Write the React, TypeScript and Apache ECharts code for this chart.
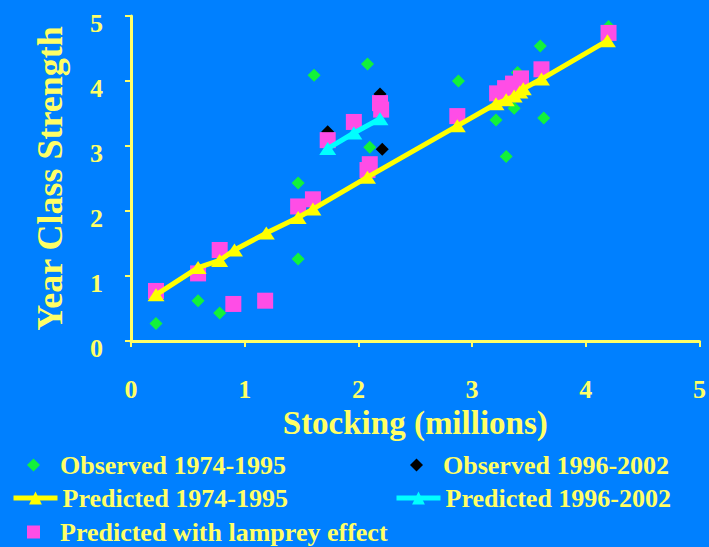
import React, { useEffect, useRef } from "react";
import * as echarts from "echarts";

// Observed 1974-1995 (green diamonds)
const obsEarlyX = [0.22, 0.59, 0.78, 1.47, 1.47, 1.61, 2.08, 2.10, 2.88, 3.21, 3.30, 3.37, 3.40, 3.60, 3.63, 4.20];
const obsEarlyY = [0.27, 0.62, 0.43, 1.26, 2.43, 4.09, 4.26, 2.98, 4.00, 3.40, 2.84, 3.58, 4.13, 4.54, 3.43, 4.84];

// Observed 1996-2002 (black diamonds)
const obsLateX = [1.73, 2.19, 2.21];
const obsLateY = [3.22, 3.80, 2.95];

// Predicted 1974-1995 (yellow line, triangles)
const predEarlyX = [0.22, 0.59, 0.78, 0.91, 1.19, 1.47, 1.60, 2.08, 2.87, 3.21, 3.30, 3.37, 3.42, 3.45, 3.61, 4.19];
const predEarlyY = [0.71, 1.13, 1.24, 1.40, 1.66, 1.90, 2.03, 2.52, 3.31, 3.65, 3.71, 3.77, 3.83, 3.88, 4.03, 4.62];

// Predicted 1996-2002 (cyan line, triangles)
const predLateX = [1.73, 1.96, 2.19];
const predLateY = [2.96, 3.20, 3.42];

// Predicted with lamprey effect (magenta squares)
const lampreyX = [0.22, 0.59, 0.78, 0.90, 1.18, 1.47, 1.60, 1.73, 1.96, 2.08, 2.10, 2.19, 2.20, 2.87, 3.22, 3.29, 3.36, 3.43, 3.61, 4.20];
const lampreyY = [0.77, 1.04, 1.40, 0.57, 0.62, 2.07, 2.18, 3.09, 3.37, 2.63, 2.72, 3.66, 3.56, 3.46, 3.81, 3.89, 3.96, 4.04, 4.18, 4.74];

const seriesNames = [
  "Observed 1974-1995",
  "Observed 1996-2002",
  "Predicted 1974-1995",
  "Predicted 1996-2002",
  "Predicted with lamprey effect",
];

const xTicks = [0, 1, 2, 3, 4, 5];
const yTicks = [0, 1, 2, 3, 4, 5];

const pairs = (xs: number[], ys: number[]) => xs.map((x, i) => [x, ys[i]]);

const FONT = "'Liberation Serif', 'Times New Roman', serif";
const TEXT = "#ffff66";
const BG = "#0080ff";

export default function App() {
  const ref = useRef<HTMLDivElement>(null);
  useEffect(() => {
    if (!ref.current) return;
    const chart = echarts.init(ref.current, null, { renderer: "svg" });
    const textStyle = { color: TEXT, fontFamily: FONT, fontWeight: "bold" as const, fontSize: 26 };
    const symbolLegend = {
      orient: "horizontal" as const,
      padding: 0,
      itemWidth: 13,
      itemHeight: 13,
      selectedMode: false,
      textStyle: { ...textStyle, padding: [0, 0, 0, 15] },
    };
    const lineLegend = {
      orient: "horizontal" as const,
      padding: 0,
      itemWidth: 44,
      itemHeight: 16,
      selectedMode: false,
      lineStyle: { width: 5 },
      textStyle,
    };
    chart.setOption({
      animation: false,
      backgroundColor: BG,
      grid: { left: 131, right: 7, top: 16, bottom: 206 },
      xAxis: {
        type: "value",
        min: xTicks[0],
        max: xTicks[xTicks.length - 1],
        interval: 1,
        splitLine: { show: false },
        axisLine: { show: true, onZero: false, lineStyle: { color: TEXT, width: 3 } },
        axisTick: { show: true, length: 6, lineStyle: { color: TEXT, width: 2 } },
        axisLabel: { ...textStyle, margin: 37, lineHeight: 22 },
        name: "Stocking (millions)",
        nameLocation: "middle",
        nameMoveOverlap: false,
        nameGap: 65,
        nameTextStyle: { ...textStyle, fontSize: 33, lineHeight: 34 },
      },
      yAxis: {
        type: "value",
        min: yTicks[0],
        max: yTicks[yTicks.length - 1],
        interval: 1,
        splitLine: { show: false },
        axisLine: { show: true, onZero: false, lineStyle: { color: TEXT, width: 3 } },
        axisTick: { show: true, length: 6, lineStyle: { color: TEXT, width: 2 } },
        axisLabel: { ...textStyle, margin: 28, verticalAlign: "top", lineHeight: 14 },
        name: "Year Class Strength",
        nameLocation: "middle",
        nameGap: 63,
        nameTextStyle: { ...textStyle, fontSize: 36 },
      },
      legend: [
        { ...symbolLegend, data: [seriesNames[0]], left: 27, top: 452 },
        { ...symbolLegend, data: [seriesNames[1]], left: 410, top: 452 },
        { ...lineLegend, data: [seriesNames[2]], left: 11, top: 485 },
        { ...lineLegend, data: [seriesNames[3]], left: 394, top: 485 },
        { ...symbolLegend, data: [seriesNames[4]], left: 27, top: 519 },
      ],
      series: [
        {
          name: seriesNames[0],
          type: "scatter",
          symbol: "diamond",
          symbolSize: 13,
          itemStyle: { color: "#12f23a", opacity: 1 },
          data: pairs(obsEarlyX, obsEarlyY),
        },
        {
          name: seriesNames[1],
          type: "scatter",
          symbol: "diamond",
          symbolSize: 13,
          itemStyle: { color: "#000000", opacity: 1 },
          data: pairs(obsLateX, obsLateY),
        },
        {
          name: seriesNames[2],
          type: "line",
          symbol: "triangle",
          symbolSize: [17, 13],
          showAllSymbol: true,
          lineStyle: { color: "#ffff00", width: 5 },
          itemStyle: { color: "#ffff00", opacity: 1 },
          data: pairs(predEarlyX, predEarlyY),
        },
        {
          name: seriesNames[3],
          type: "line",
          symbol: "triangle",
          symbolSize: [17, 13],
          showAllSymbol: true,
          lineStyle: { color: "#00ffff", width: 5 },
          itemStyle: { color: "#00ffff", opacity: 1 },
          data: pairs(predLateX, predLateY),
        },
        {
          name: seriesNames[4],
          type: "scatter",
          symbol: "rect",
          symbolSize: 16,
          itemStyle: { color: "#ff4de6", opacity: 1 },
          data: pairs(lampreyX, lampreyY),
        },
      ],
    });
    return () => chart.dispose();
  }, []);
  return (
    <div
      ref={ref}
      style={{ position: "fixed", left: 0, top: 0, width: 709, height: 547, background: BG }}
    />
  );
}
